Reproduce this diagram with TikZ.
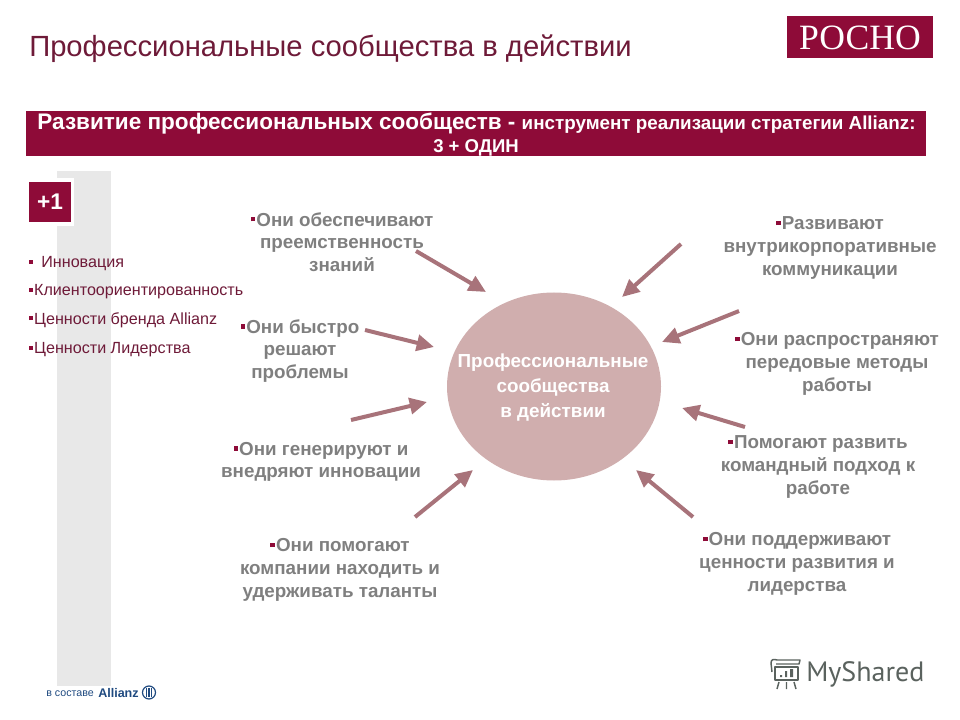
\documentclass[tikz,border=0pt]{standalone}
\usepackage{fontspec}
\setmainfont{Liberation Sans}
\newfontfamily\serifrm{Liberation Serif}
\newfontfamily\ptsans{PT Sans}
\usetikzlibrary{arrows.meta}
\definecolor{maroon}{HTML}{8E0B38}
\definecolor{titlecol}{HTML}{6E1A38}
\definecolor{greytxt}{HTML}{7F7F7F}
\definecolor{arrowcol}{HTML}{A8737A}
\definecolor{circlecol}{HTML}{D0AEAE}
\definecolor{band}{HTML}{E8E8E8}
\definecolor{allianz}{HTML}{1F4A80}
\definecolor{mysh}{HTML}{5A625E}
\newcommand{\bul}{\raisebox{0.25em}{\textcolor{maroon}{\rule{0.24em}{0.24em}}}\hspace{0.06em}}
\tikzset{
  x=0.75pt,y=-0.75pt,
  lbl/.style={font=\fontsize{14.1}{17}\selectfont\bfseries,text=greytxt,align=center,inner sep=0pt},
  side/.style={font=\fontsize{12.1}{14}\selectfont,text=titlecol,anchor=west,inner sep=0pt},
  arr/.style={draw=arrowcol,line width=3pt,-{Triangle[length=13pt,width=12pt]}},
}
\begin{document}
\begin{tikzpicture}
\useasboundingbox (0,0) rectangle (960,720);
\fill[band] (57,171) rectangle (111,686);
\node[font=\fontsize{21.9}{26}\selectfont,text=titlecol,anchor=west,inner sep=0pt] (title) at (29,49) {Профессиональные сообщества в действии};
\node[fill=maroon,minimum width=109.5pt,minimum height=31.5pt,inner sep=0pt] (logo) at (860,37) {};
\node[text=white,inner sep=0pt,font=\fontsize{26.7}{30}\serifrm] (logotxt) at (860,38) {РОСНО};
\node[fill=maroon,minimum width=675pt,minimum height=33.75pt,inner sep=0pt] (bar) at (476,133.5) {};
\node[text=white,inner sep=0pt,font=\bfseries] (bar1) at (476.5,124) {\fontsize{16.9}{18}\selectfont Развитие профессиональных сообществ - \fontsize{14.1}{18}\selectfont инструмент реализации стратегии Allianz:};
\node[text=white,inner sep=0pt,font=\fontsize{13.9}{16}\selectfont\bfseries] (bar2) at (476,148) {3 + ОДИН};
\node[fill=maroon,draw=white,line width=2.5pt,minimum width=34pt,minimum height=33pt,inner sep=0pt,text=white,font=\fontsize{17}{20}\selectfont\bfseries] (plus) at (50,202) {+1};
\node[side] (s1) at (29,264) {\bul\hspace{0.45em}Инновация};
\node[side] (s2) at (29,292) {\bul Клиентоориентированность};
\node[side] (s3) at (29,320) {\bul Ценности бренда Allianz};
\node[side] (s4) at (29,350) {\bul Ценности Лидерства};
\fill[circlecol] (554,386.5) ellipse [x radius=107,y radius=94];
\node[font=\fontsize{14.15}{18.5}\selectfont\bfseries,text=white,align=center,inner sep=0pt] (c) at (553,387.5) {Профессиональные\\сообщества\\в действии};
\node[lbl] (a) at (342,242) {\bul Они обеспечивают\\преемственность\\знаний};
\node[lbl] (b) at (300,351) {\bul Они быстро\\решают\\проблемы};
\node[lbl] (d) at (321,462) {\bul Они генерируют и\\внедряют инновации};
\node[lbl] (e) at (340,570) {\bul Они помогают\\компании находить и\\удерживать таланты};
\node[lbl] (f) at (830,248) {\bul Развивают\\внутрикорпоративные\\коммуникации};
\node[lbl] (g) at (837,364) {\bul Они распространяют\\передовые методы\\работы};
\node[lbl] (h) at (818,467) {\bul Помогают развить\\командный подход к\\работе};
\node[lbl] (i) at (797,564) {\bul Они поддерживают\\ценности развития и\\лидерства};
\coordinate (a1) at (416,251); \coordinate (a2) at (486,292);
\coordinate (b1) at (365,330); \coordinate (b2) at (434,347);
\coordinate (d1) at (351,420); \coordinate (d2) at (427,402);
\coordinate (e1) at (415,517); \coordinate (e2) at (473,470);
\coordinate (f1) at (681,244); \coordinate (f2) at (622,297);
\coordinate (g1) at (739,311); \coordinate (g2) at (662,342);
\coordinate (h1) at (745,427); \coordinate (h2) at (682,408);
\coordinate (i1) at (693,517); \coordinate (i2) at (636,470);
\foreach \n in {a,b,d,e,f,g,h,i} \draw[arr] (\n1) -- (\n2);
% Allianz footer
\node[font=\fontsize{8}{9}\selectfont,text=allianz,anchor=west,inner sep=0pt] (v) at (46,693.5) {в составе};
\node[font=\fontsize{9.4}{10}\selectfont\bfseries,text=allianz,anchor=west,inner sep=0pt] (al) at (98,693) {Allianz};
\draw[allianz,line width=0.9pt] (149,692.5) circle [radius=6.5];
\foreach \dx in {-2.6,0,2.6} \fill[allianz] (149+\dx-0.8,688) rectangle (149+\dx+0.8,697);
% MyShared watermark
\node[font=\fontsize{21}{24}\ptsans,text=mysh,anchor=west,inner sep=0pt] (ms) at (806,674.5) {MyShared};
\draw[mysh,line width=1.1pt,line join=round] (775,667) rectangle (798,680);
\draw[mysh,line width=1.1pt,line join=round] (772,672) -- (771,663) .. controls (771,659) and (774,659) .. (777,660) -- (800,660) -- (799,664) -- (776,664);
\fill[mysh] (780,675) rectangle (782,677) (785,671) rectangle (787,677) (790,669) rectangle (793,677);
\draw[mysh,line width=1.1pt] (779,682) -- (777,689) (786.5,682) -- (786.5,689) (794,682) -- (796,689);
\end{tikzpicture}
\end{document}
